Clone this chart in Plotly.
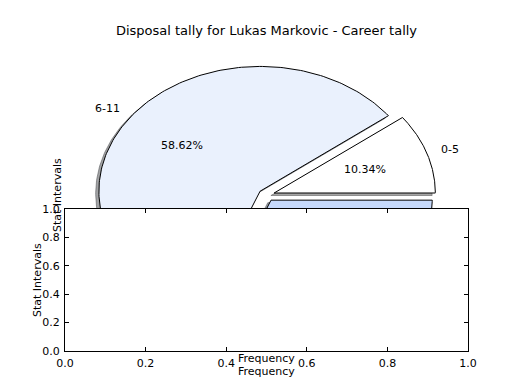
import numpy as np
import plotly.graph_objects as go

# ---- data ----
labels = ["0-5", "6-11", "12-17"]
values = [3, 17, 9]
colors = ["#ffffff", "#eaf1fd", "#c6d9fb"]
explode = [0.05, 0.05, 0.05]
title = "Disposal tally for Lukas Markovic - Career tally"
x_ticks = [0.0, 0.2, 0.4, 0.6, 0.8, 1.0]
y_ticks = [0.0, 0.2, 0.4, 0.6, 0.8, 1.0]

W, H = 520, 390
FONT = "DejaVu Sans"
fs = 11

fig = go.Figure()

total = float(sum(values))
fracs = [v / total for v in values]
starts = np.cumsum([0] + fracs[:-1]) * 360.0
shadow_off = -0.02

wedges = []
for lab, fr, st, col, ex in zip(labels, fracs, starts, colors, explode):
    t1, t2 = st, st + fr * 360.0
    mid = np.deg2rad((t1 + t2) / 2)
    cx, cy = ex * np.cos(mid), ex * np.sin(mid)
    th = np.deg2rad(np.linspace(t1, t2, 200))
    xs = np.concatenate([[cx], cx + np.cos(th), [cx]])
    ys = np.concatenate([[cy], cy + np.sin(th), [cy]])
    wedges.append((lab, fr, col, cx, cy, mid, xs, ys))

# shadows first (below all wedges)
for lab, fr, col, cx, cy, mid, xs, ys in wedges:
    rgb = [int(col[i:i + 2], 16) for i in (1, 3, 5)]
    sc = "rgba(%d,%d,%d,0.5)" % tuple(int(0.3 * c) for c in rgb)
    fig.add_trace(go.Scatter(x=xs + shadow_off, y=ys + shadow_off, mode="lines",
                             fill="toself", fillcolor=sc,
                             line=dict(color=sc, width=1),
                             hoverinfo="skip", showlegend=False,
                             xaxis="x", yaxis="y"))
for lab, fr, col, cx, cy, mid, xs, ys in wedges:
    fig.add_trace(go.Scatter(x=xs, y=ys, mode="lines", fill="toself",
                             fillcolor=col, line=dict(color="black", width=1),
                             hoverinfo="skip", showlegend=False,
                             xaxis="x", yaxis="y"))

# white background of second axes, drawn over the pie
fig.add_trace(go.Scatter(x=[0, 1, 1, 0, 0], y=[0, 0, 1, 1, 0], mode="lines",
                         fill="toself", fillcolor="white",
                         line=dict(color="white", width=0),
                         hoverinfo="skip", showlegend=False,
                         xaxis="x2", yaxis="y2"))

annotations = []
# pie labels and percentages (only the ones not hidden behind the lower axes)
for lab, fr, col, cx, cy, mid, xs, ys in wedges:
    lx = cx + 1.1 * np.cos(mid)
    ly = cy + 1.1 * np.sin(mid)
    px = cx + 0.6 * np.cos(mid)
    py = cy + 0.6 * np.sin(mid)
    if ly < -0.25:
        continue
    right_side = lx > 0
    annotations.append(dict(x=lx, y=ly, xref="x", yref="y", text=lab,
                            showarrow=False,
                            xanchor="left" if right_side else "right",
                            xshift=-3 if right_side else 3,
                            yanchor="middle",
                            font=dict(family=FONT, size=fs, color="black")))
    annotations.append(dict(x=px, y=py, xref="x", yref="y",
                            text="%.2f%%" % (fr * 100), showarrow=False,
                            xanchor="center", yanchor="middle", xshift=-1,
                            font=dict(family=FONT, size=fs, color="black")))

ax_l, ax_r = 65 / W, 468 / W
# axis titles of the first (pie) axes
annotations.append(dict(x=(ax_l + ax_r) / 2, y=1 - 358 / H, xref="paper", yref="paper",
                        text="Frequency", showarrow=False, xanchor="center", yanchor="middle",
                        font=dict(family=FONT, size=fs, color="black")))
annotations.append(dict(x=57 / W, y=1 - 195 / H, xref="paper", yref="paper",
                        text="Stat Intervals", showarrow=False, textangle=-90,
                        xanchor="center", yanchor="middle",
                        font=dict(family=FONT, size=fs, color="black")))
# axis titles of the second axes
annotations.append(dict(x=(ax_l + ax_r) / 2, y=1 - 371 / H, xref="paper", yref="paper",
                        text="Frequency", showarrow=False, xanchor="center", yanchor="middle",
                        font=dict(family=FONT, size=fs, color="black")))
annotations.append(dict(x=37 / W, y=1 - 280 / H, xref="paper", yref="paper",
                        text="Stat Intervals", showarrow=False, textangle=-90,
                        xanchor="center", yanchor="middle",
                        font=dict(family=FONT, size=fs, color="black")))

hidden = dict(visible=False, fixedrange=True, automargin=False)
ax2 = dict(range=[0, 1], showgrid=False, zeroline=False, showline=True, mirror="allticks",
           linecolor="black", linewidth=1, ticks="inside", ticklen=4, tickwidth=1,
           tickcolor="black", tickfont=dict(family=FONT, size=fs, color="black"),
           tickformat=".1f", fixedrange=True, automargin=False)

fig.update_layout(
    template="none",
    width=W, height=H,
    margin=dict(l=0, r=0, t=0, b=0, pad=0, autoexpand=False),
    paper_bgcolor="white", plot_bgcolor="rgba(0,0,0,0)",
    title=dict(text=title, x=(ax_l + ax_r) / 2, xref="paper", xanchor="center",
               y=1 - 30 / H, yanchor="middle",
               font=dict(family=FONT, size=13, color="black")),
    xaxis=dict(domain=[ax_l, ax_r], range=[-1.25, 1.25], anchor="y", **hidden),
    yaxis=dict(domain=[1 - 351 / H, 1 - 39 / H], range=[-1.25, 1.25], anchor="x", **hidden),
    xaxis2=dict(domain=[ax_l, ax_r], anchor="y2", tickvals=x_ticks, ticklabelstandoff=2, **ax2),
    yaxis2=dict(domain=[1 - 351 / H, 1 - 209 / H], anchor="x2", tickvals=y_ticks, ticklabelstandoff=2, **ax2),
    annotations=annotations,
    showlegend=False,
)

fig.write_html("out.html", config={"staticPlot": True},
               post_script="document.body.style.margin='0';document.body.style.padding='0';")
